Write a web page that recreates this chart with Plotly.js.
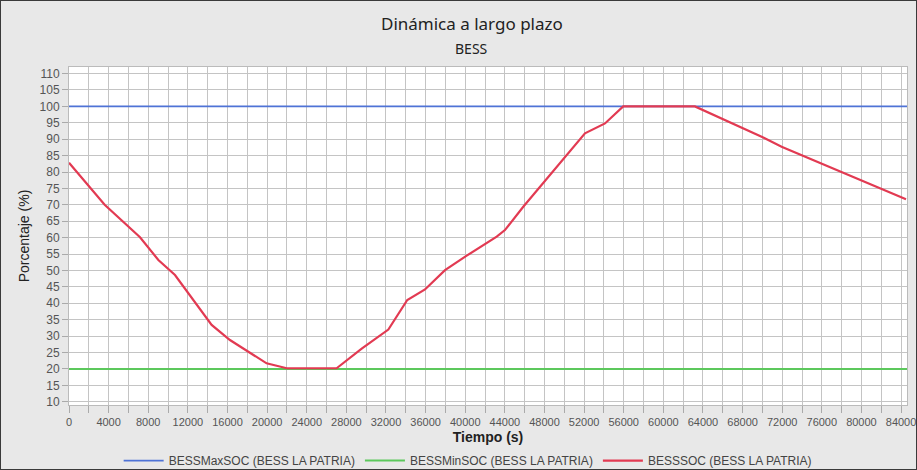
<!DOCTYPE html>
<html>
<head>
<meta charset="utf-8">
<script src="https://cdn.plot.ly/plotly-3.0.1.min.js"></script>
<style>
  html, body { margin: 0; padding: 0; background: #e8e8e8; }
  #chart { width: 915px; height: 468px; border: 1px solid #3a3a3a; }
</style>
</head>
<body>
<div id="chart"></div>
<script>
// ---- data ----
const timeSOC = [0, 3600, 7170, 9020, 10700, 14400, 16250, 19950, 21980, 27020,
  29550, 32240, 34150, 35940, 37960, 40150, 43180, 44010, 45860, 47880,
  50240, 52090, 54110, 55950, 63190, 70090, 71940, 84500];
const socValues = [82.8, 70.0, 60.1, 53.2, 48.6, 33.4, 28.8, 21.7, 20.2, 20.2,
  26.2, 32.0, 41.0, 44.2, 50.1, 54.5, 60.3, 62.3, 69.4, 76.6,
  85.2, 91.8, 94.8, 100, 100, 90.5, 87.7, 71.7];
const timeLimits = [0, 84600];
const maxSOC = [100, 100];
const minSOC = [20, 20];
const seriesNames = ["BESSMaxSOC (BESS LA PATRIA)", "BESSMinSOC (BESS LA PATRIA)", "BESSSOC (BESS LA PATRIA)"];
const titleText = "Dinámica a largo plazo";
const subtitleText = "BESS";
const xTitle = "Tiempo (s)";
const yTitle = "Porcentaje (%)";

const traces = [
  { x: timeLimits, y: maxSOC, name: seriesNames[0], mode: "lines", line: { color: "#4f73d6", width: 1.8 } },
  { x: timeLimits, y: minSOC, name: seriesNames[1], mode: "lines", line: { color: "#5cc85c", width: 2 } },
  { x: timeSOC, y: socValues, name: seriesNames[2], mode: "lines", line: { color: "#e23a52", width: 2.2 } }
];

const fam = "Liberation Sans, Arial, sans-serif";
const W = 915, H = 468, ML = 68, MR = 9, MT = 66, MB = 64;
const plotH = H - MT - MB, plotW = W - ML - MR;
const px2py = (py) => (H - MB - py) / plotH;
const px2px = (px) => (px - ML) / plotW;

const layout = {
  width: W, height: H,
  paper_bgcolor: "#e8e8e8",
  plot_bgcolor: "#ffffff",
  margin: { l: ML, r: MR, t: MT, b: MB },
  showlegend: true,
  legend: {
    orientation: "h", xref: "container", yref: "container",
    x: 0.51, xanchor: "center", y: 0.018, yanchor: "middle",
    font: { family: fam, size: 12, color: "#444" },
    bgcolor: "rgba(0,0,0,0)", itemwidth: 40, tracegroupgap: 0
  },
  xaxis: {
    range: [0, 84600], dtick: 4000, tick0: 0, tickformat: "d",
    ticklabeloverflow: "allow",
    showgrid: true, gridcolor: "#c4c4c4", gridwidth: 1,
    ticks: "outside", ticklen: 7, tickcolor: "#aaa",
    minor: { dtick: 2000, showgrid: true, gridcolor: "#c4c4c4", ticks: "outside", ticklen: 7, tickcolor: "#aaa" },
    tickfont: { family: fam, size: 11, color: "#555" }, zeroline: false,
    showline: true, linecolor: "#bbb", mirror: true,
    title: { text: "<b>" + xTitle + "</b>", font: { family: fam, size: 14, color: "#222" }, standoff: 4 }
  },
  yaxis: {
    range: [9, 112], dtick: 5, tick0: 10,
    showgrid: true, gridcolor: "#c4c4c4", gridwidth: 1,
    ticks: "outside", ticklen: 6, tickcolor: "#aaa",
    tickfont: { family: fam, size: 12, color: "#555" }, zeroline: false,
    showline: true, linecolor: "#bbb", mirror: true,
    title: { text: yTitle, font: { family: fam, size: 14, color: "#222" }, standoff: 6 }
  },
  annotations: [
    { text: titleText, xref: "paper", yref: "paper", x: px2px(471), y: px2py(22),
      xanchor: "center", yanchor: "middle", showarrow: false,
      font: { family: "Noto Sans, Open Sans, sans-serif", size: 17, color: "#222" } },
    { text: subtitleText, xref: "paper", yref: "paper", x: px2px(470), y: px2py(47),
      xanchor: "center", yanchor: "middle", showarrow: false,
      font: { family: "Noto Sans, Open Sans, sans-serif", size: 14, color: "#222" } }
  ]
};

Plotly.newPlot("chart", traces, layout, { displayModeBar: false, staticPlot: true });
</script>
</body>
</html>
